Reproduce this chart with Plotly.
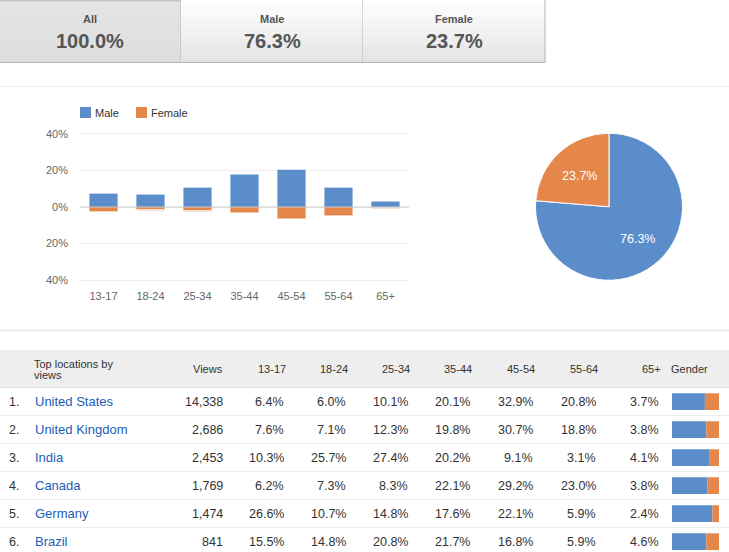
import plotly.graph_objects as go

W = 729
H = 552

BLUE = "#5b8dcb"
ORANGE = "#e5874b"
PALE = "#f6e2d2"
FONT = "Liberation Sans"

tab_names = ["All", "Male", "Female"]
tab_values = ["100.0%", "76.3%", "23.7%"]

age_groups = ["13-17", "18-24", "25-34", "35-44", "45-54", "55-64", "65+"]
male_pct = [7.3, 6.8, 10.6, 17.7, 20.4, 10.6, 3.0]
female_pct = [-2.4, -1.5, -1.9, -3.0, -6.3, -4.6, -0.2]
female_pale = [0, -0.5, -0.5, 0, 0, 0, -0.7]
y_ticks = [-40, -20, 0, 20, 40]
y_tick_labels = ["40%", "20%", "0%", "20%", "40%"]

pie_labels = ["Male", "Female"]
pie_values = [76.3, 23.7]

countries = ["United States", "United Kingdom", "India", "Canada", "Germany", "Brazil"]
views = ["14,338", "2,686", "2,453", "1,769", "1,474", "841"]
age_13_17 = ["6.4%", "7.6%", "10.3%", "6.2%", "26.6%", "15.5%"]
age_18_24 = ["6.0%", "7.1%", "25.7%", "7.3%", "10.7%", "14.8%"]
age_25_34 = ["10.1%", "12.3%", "27.4%", "8.3%", "14.8%", "20.8%"]
age_35_44 = ["20.1%", "19.8%", "20.2%", "22.1%", "17.6%", "21.7%"]
age_45_54 = ["32.9%", "30.7%", "9.1%", "29.2%", "22.1%", "16.8%"]
age_55_64 = ["20.8%", "18.8%", "3.1%", "23.0%", "5.9%", "5.9%"]
age_65 = ["3.7%", "3.8%", "4.1%", "3.8%", "2.4%", "4.6%"]
row_male = [70, 73, 79, 75, 86, 73]
row_female = [30, 27, 21, 25, 14, 27]


def fx(x):
    return x / W


def fy(y):
    return 1 - y / H


def rect(x0, y0, x1, y1, color, line=None):
    return dict(type="rect", xref="paper", yref="paper", x0=fx(x0), x1=fx(x1), y0=fy(y0), y1=fy(y1),
                fillcolor=color, line=dict(width=0 if line is None else 1, color=line), layer="below")


def label(x, y, text, size=12, color="#333333", anchor="right", bold=False):
    if bold:
        text = "<b>" + text + "</b>"
    return dict(xref="paper", yref="paper", x=fx(x), y=fy(y), text=text, showarrow=False,
                xanchor=anchor, yanchor="middle", align="left",
                font=dict(family=FONT, size=size, color=color))


def mix(a, b, t):
    return "rgb(%d,%d,%d)" % tuple(round(a[i] + (b[i] - a[i]) * t) for i in range(3))


shapes = []
notes = []

# tabs across the top
tab_edges = [0, 181, 363, 545]
for i in range(3):
    x0, x1 = tab_edges[i], tab_edges[i + 1]
    top = (229, 229, 229) if i == 0 else (255, 255, 255)
    bottom = (221, 221, 221) if i == 0 else (227, 227, 227)
    for y in range(0, 62, 2):
        shapes.append(rect(x0, y, x1, y + 2, mix(top, bottom, y / 62)))
    shapes.append(rect(x0, 62, x1, 63, "#b4b4b4"))
    shapes.append(rect(x1 - 0.5, 0, x1 + 0.5, 63, "#b4b4b4"))
    notes.append(label((x0 + x1) / 2 + (0 if i else -1), 19.5, tab_names[i], 11, "#555555", "center", True))
    notes.append(label((x0 + x1) / 2 + (0 if i else -1), 41, tab_values[i], 20, "#555555", "center", True))
shapes.append(rect(0, 0, 181, 1.5, "#c4c4c4"))

# separators
shapes.append(rect(0, 86, W, 87, "#eeeeee"))
shapes.append(rect(0, 329.5, W, 330.5, "#dcdcdc"))
shapes.append(rect(0, 330.5, W, 332, "#f3f3f3"))

# legend of the bar chart
shapes.append(rect(80, 107, 91, 118, BLUE))
shapes.append(rect(136, 107, 147, 118, ORANGE))
notes.append(label(93, 113, "Male", 11, "#333333", "left"))
notes.append(label(149, 113, "Female", 11, "#333333", "left"))

# table header
shapes.append(rect(0, 350, W, 387, "#eeeeee"))
shapes.append(rect(0, 387, W, 388, "#dddddd"))
notes.append(label(32, 363.5, "Top locations by", 11, "#333333", "left"))
notes.append(label(32, 375, "views", 11, "#333333", "left"))
header_names = ["Views"] + age_groups
header_right = [225, 288, 350, 412, 474, 537, 600, 663]
for name, x in zip(header_names, header_right):
    notes.append(label(x, 369, name, 11))
notes.append(label(669, 369, "Gender", 11, "#333333", "left"))

# table rows
columns = [views, age_13_17, age_18_24, age_25_34, age_35_44, age_45_54, age_55_64, age_65]
column_right = [225, 286, 348, 410, 472, 535, 598, 661]
for r, name in enumerate(countries):
    y = 401.7 + 28 * r
    notes.append(label(7, y, "%d." % (r + 1), 12.5, "#333333", "left"))
    notes.append(label(33, y, name, 13, "#1a5cb8", "left"))
    for col, x in zip(columns, column_right):
        notes.append(label(x, y, col[r], 12.5))
    if r < 5:
        shapes.append(rect(0, y + 13.3, W, y + 14.3, "#eeeeee"))

# pie labels
notes.append(label(637, 239, "%.1f%%" % pie_values[0], 12.5, "white", "center"))
notes.append(label(579, 176, "%.1f%%" % pie_values[1], 12.5, "white", "center"))

fig = go.Figure()

# bars by age
fig.add_trace(go.Bar(x=age_groups, y=male_pct, marker=dict(color=BLUE, line_width=0), name="Male"))
fig.add_trace(go.Bar(x=age_groups, y=female_pct, marker=dict(color=ORANGE, line_width=0), name="Female"))
fig.add_trace(go.Bar(x=age_groups, y=female_pale, marker=dict(color=PALE, line_width=0), name="Female"))

# pie
fig.add_trace(go.Pie(labels=pie_labels, values=pie_values, sort=False, direction="clockwise", rotation=0,
                     marker=dict(colors=[BLUE, ORANGE], line=dict(color="white", width=1)),
                     textinfo="none",
                     domain=dict(x=[fx(535.5), fx(682.5)], y=[fy(280.5), fy(133)])))

# small gender bars in the table
fig.add_trace(go.Bar(x=row_male, y=countries, orientation="h", xaxis="x2", yaxis="y2",
                     marker=dict(color=BLUE, line_width=0)))
fig.add_trace(go.Bar(x=row_female, y=countries, orientation="h", xaxis="x2", yaxis="y2",
                     marker=dict(color=ORANGE, line_width=0)))

# zero line on top of the bars
shapes.append(dict(type="line", xref="x domain", yref="y", x0=0, x1=1, y0=0, y1=0,
                   line=dict(color="#cccccc", width=1), layer="above"))

fig.update_layout(
    width=W,
    height=H,
    margin=dict(l=0, r=0, t=0, b=0),
    paper_bgcolor="white",
    plot_bgcolor="white",
    showlegend=False,
    barmode="relative",
    bargap=0.4,
    font=dict(family=FONT, size=11, color="#666666"),
    shapes=shapes,
    annotations=notes,
    xaxis=dict(domain=[fx(80), fx(409)], type="category", showgrid=False, zeroline=False, showline=False,
               automargin=False, ticks="", ticklabelstandoff=6, tickfont=dict(size=11, color="#666666"),
               range=[-0.5, 6.5]),
    yaxis=dict(domain=[fy(282), fy(132)], range=[-41, 41], tickvals=y_ticks, ticktext=y_tick_labels,
               automargin=False, showgrid=True, gridcolor="#eeeeee", gridwidth=1, zeroline=False, showline=False,
               ticks="", ticklabelstandoff=11, tickfont=dict(size=11, color="#666666")),
    xaxis2=dict(domain=[fx(672), fx(719)], range=[0, 100], visible=False, anchor="y2", automargin=False),
    yaxis2=dict(domain=[0, fy(387.7)], type="category", range=[5.368, -0.5], visible=False, anchor="x2",
                automargin=False),
)

fig.write_html("out.html", post_script="document.body.style.margin='0';", config={"displayModeBar": False})
